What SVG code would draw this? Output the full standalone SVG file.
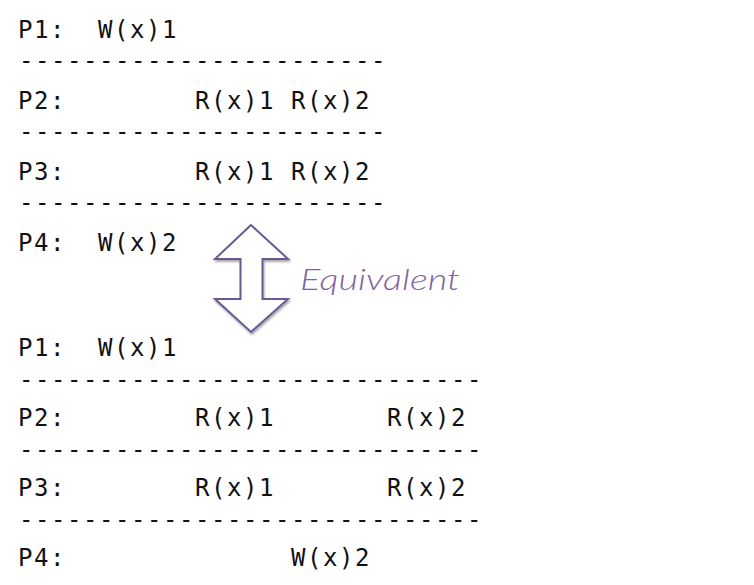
<svg xmlns="http://www.w3.org/2000/svg" width="754" height="585" viewBox="0 0 754 585">
<style>
.m{font-family:"DejaVu Sans Mono","Liberation Mono",monospace;font-size:24px;letter-spacing:1.55px;fill:#111}
.eq{font-family:Lato,"Open Sans","Noto Sans",sans-serif;font-style:italic;font-weight:300;font-size:30px;fill:#8064A2}
</style>
<defs>
<filter id="sh" x="-20%" y="-20%" width="140%" height="140%">
<feGaussianBlur in="SourceAlpha" stdDeviation="1.2"/>
<feOffset dx="1" dy="1.5" result="b"/>
<feComponentTransfer><feFuncA type="linear" slope="0.35"/></feComponentTransfer>
<feMerge><feMergeNode/><feMergeNode in="SourceGraphic"/></feMerge>
</filter>
</defs>
<rect width="754" height="585" fill="#fff"/>
<g id="top">
<text class="m" x="18" y="38">P1:</text><text class="m" x="98" y="38">W(x)1</text>
<text class="m" x="19" y="69">-----------------------</text>
<text class="m" x="18" y="109">P2:</text><text class="m" x="195" y="109">R(x)1</text><text class="m" x="291" y="109">R(x)2</text>
<text class="m" x="19" y="140">-----------------------</text>
<text class="m" x="18" y="180">P3:</text><text class="m" x="195" y="180">R(x)1</text><text class="m" x="291" y="180">R(x)2</text>
<text class="m" x="19" y="211">-----------------------</text>
<text class="m" x="18" y="251">P4:</text><text class="m" x="98" y="251">W(x)2</text>
</g>
<g id="equiv">
<polygon filter="url(#sh)" points="251,225 215,259 240.5,259 240.5,299 215,299 251,332 288,299 262.5,299 262.5,259 288,259" fill="#fff" stroke="#6A5892" stroke-width="2" stroke-linejoin="miter"/>
<text class="eq" x="300" y="290" textLength="160" lengthAdjust="spacingAndGlyphs">Equivalent</text>
</g>
<g id="bottom">
<text class="m" x="18" y="356">P1:</text><text class="m" x="98" y="356">W(x)1</text>
<text class="m" x="19" y="388">-----------------------------</text>
<text class="m" x="18" y="426">P2:</text><text class="m" x="195" y="426">R(x)1</text><text class="m" x="387" y="426">R(x)2</text>
<text class="m" x="19" y="458">-----------------------------</text>
<text class="m" x="18" y="496">P3:</text><text class="m" x="195" y="496">R(x)1</text><text class="m" x="387" y="496">R(x)2</text>
<text class="m" x="19" y="528">-----------------------------</text>
<text class="m" x="18" y="566">P4:</text><text class="m" x="291" y="566">W(x)2</text>
</g>
</svg>
